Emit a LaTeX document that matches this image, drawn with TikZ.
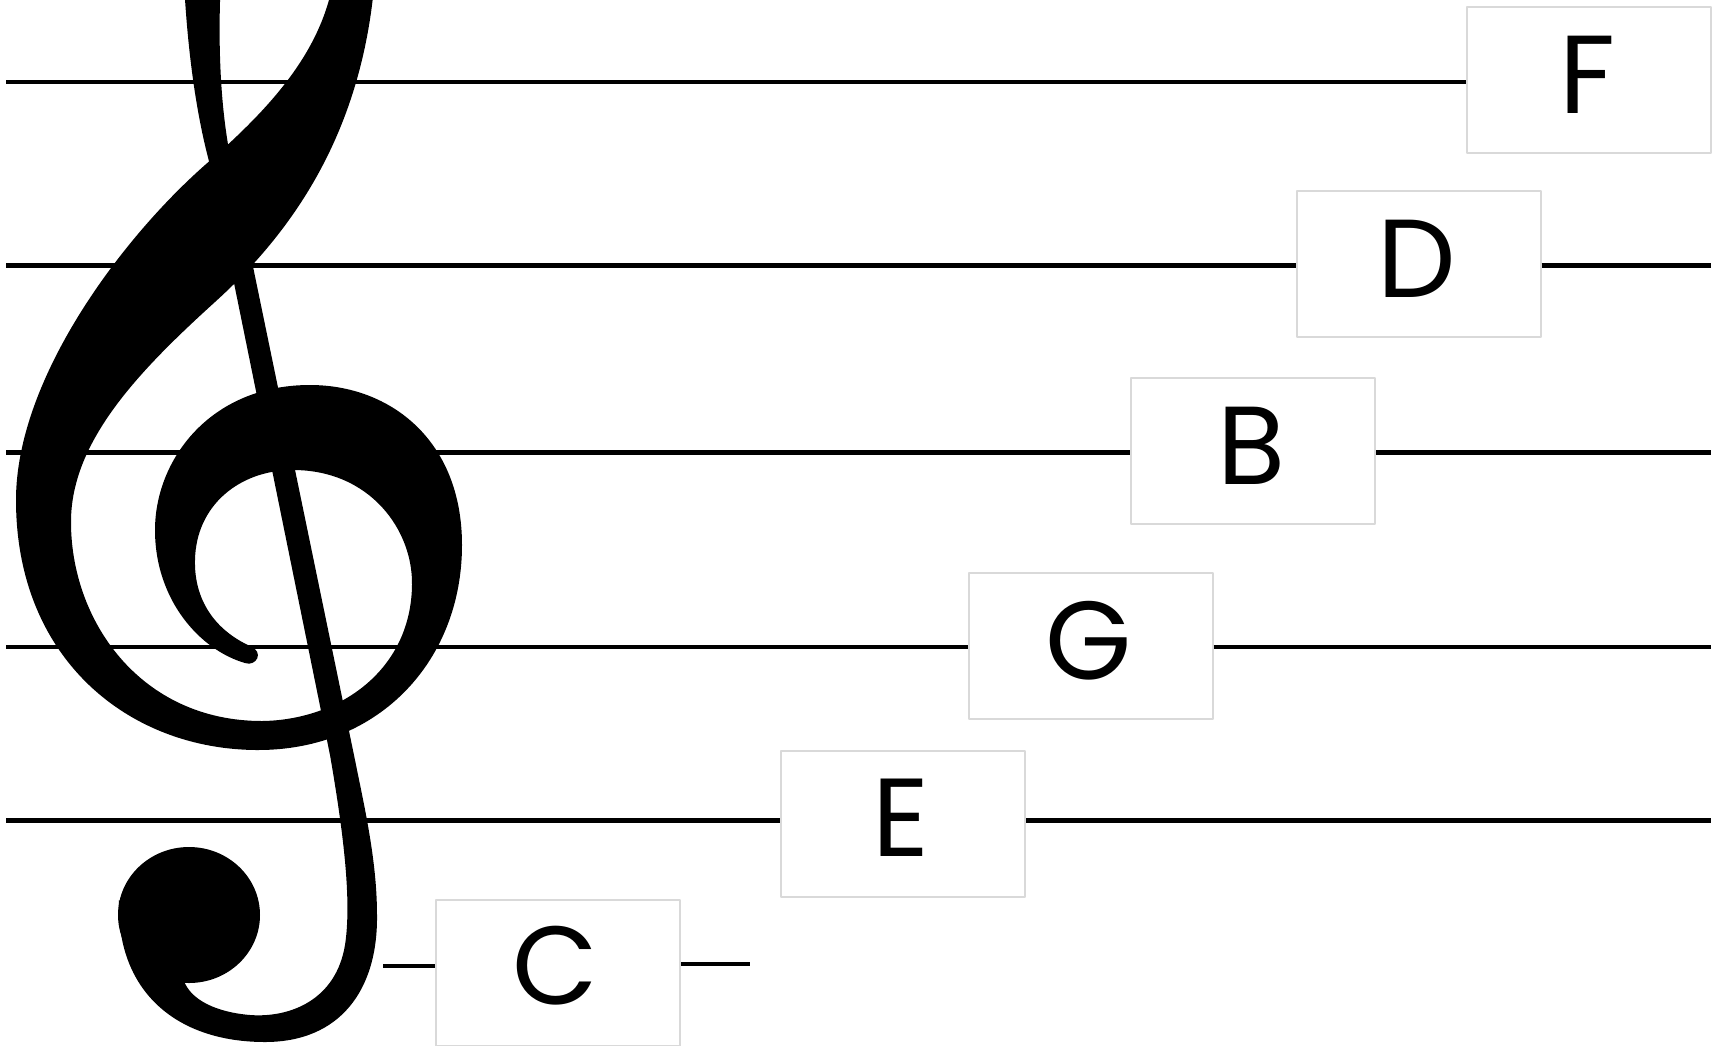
\documentclass[tikz,border=0pt]{standalone}
\usepackage{fontspec}
\newfontfamily\notefont{Poppins}
\definecolor{boxgray}{RGB}{217,217,217}
\tikzset{
  staff/.style={line width=4.8pt, black},
  notebox/.style={draw=boxgray, line width=2pt, minimum width=244pt, minimum height=146pt, inner sep=0pt, fill=white},
  letter/.style={font=\notefont\fontsize{111}{111}\selectfont, inner sep=0pt, text=black},
  clef/.style={fill=black}
}
\begin{document}
\begin{tikzpicture}[x=1pt, y=-1pt, line join=round]
\useasboundingbox (0,0) rectangle (1721,1045);
\clip (0,0) rectangle (1721,1045);
\fill[white] (0,0) rectangle (1721,1045);

% staff line end points
\coordinate (Fl) at (6,82);
\coordinate (Dl) at (6,265.5);   \coordinate (Dr) at (1711,265.5);
\coordinate (Bl) at (6,452.5);   \coordinate (Br) at (1711,452.5);
\coordinate (Gl) at (6,647);     \coordinate (Gr) at (1711,647);
\coordinate (El) at (6,820.5);   \coordinate (Er) at (1711,820.5);
\coordinate (Cl) at (383,966);   \coordinate (Cr) at (750,964);

% boxes
\node[notebox] (Fbox) at (1589,80) {};
\node[notebox] (Dbox) at (1418.5,263.5) {};
\node[notebox] (Bbox) at (1253,451) {};
\node[notebox] (Gbox) at (1090.5,645.5) {};
\node[notebox] (Ebox) at (903,823.5) {};
\node[notebox] (Cbox) at (558,973) {};

% staff lines
\draw[staff] (Fl) -- (Fl -| Fbox.west);
\draw[staff] (Dl) -- (Dl -| Dbox.west);  \draw[staff] (Dr -| Dbox.east) -- (Dr);
\draw[staff] (Bl) -- (Bl -| Bbox.west);  \draw[staff] (Br -| Bbox.east) -- (Br);
\draw[staff] (Gl) -- (Gl -| Gbox.west);  \draw[staff] (Gr -| Gbox.east) -- (Gr);
\draw[staff] (El) -- (El -| Ebox.west);  \draw[staff] (Er -| Ebox.east) -- (Er);
\draw[staff] (Cl) -- (Cl -| Cbox.west);  \draw[staff] (Cr -| Cbox.east) -- (Cr);

% letters
\node[letter] (Ft) at ([xshift=-2pt,yshift=5pt]Fbox.center) {F};
\node[letter] (Dt) at ([xshift=-2pt,yshift=5pt]Dbox.center) {D};
\node[letter] (Bt) at ([xshift=-1pt,yshift=5pt]Bbox.center) {B};
\node[letter] (Gt) at ([xshift=-2pt,yshift=5pt]Gbox.center) {G};
\node[letter] (Et) at ([xshift=-2pt,yshift=6pt]Ebox.center) {E};
\node[letter] (Ct) at ([xshift=-3pt,yshift=7pt]Cbox.center) {C};

% treble clef: spiral body (outer edge, terminal, inner edge)
\fill[clef] (336,-40)
  .. controls (330,40) and (280,100) .. (205,165)
  .. controls (120,240) and (16,380) .. (16,500)
  .. controls (16,660) and (130,750) .. (258,750)
  .. controls (380,750) and (462,660) .. (462,545)
  .. controls (462,440) and (390,385) .. (310,385)
  .. controls (210,385) and (155,460) .. (155,530)
  .. controls (155,600) and (200,650) .. (245,663)
  .. controls (256,667) and (265,652) .. (250,646)
  .. controls (215,630) and (194,600) .. (195,560)
  .. controls (196,505) and (240,470) .. (293,470)
  .. controls (370,470) and (413,530) .. (412,585)
  .. controls (411,670) and (340,720) .. (262,721)
  .. controls (140,721) and (70,620) .. (71,520)
  .. controls (72,440) and (140,370) .. (215,302)
  .. controls (300,225) and (368,120) .. (376,-40)
  -- cycle;

% treble clef: stem and hook
\fill[clef] (183,-40)
  .. controls (186,40) and (195,110) .. (210,165)
  -- (330,755)
  .. controls (343,830) and (352,900) .. (345,945)
  .. controls (336,1000) and (290,1018) .. (250,1015)
  .. controls (215,1012) and (195,1000) .. (187,987)
  -- (160,940) -- (119,900)
  .. controls (116,990) and (175,1042) .. (265,1042)
  .. controls (340,1042) and (378,990) .. (377,915)
  .. controls (377,860) and (364,805) .. (355,760)
  -- (232,165)
  .. controls (222,120) and (216,50) .. (222,-40)
  -- cycle;

% treble clef: ball
\fill[clef] (189,915) ellipse [x radius=71pt, y radius=68pt];
\end{tikzpicture}
\end{document}
